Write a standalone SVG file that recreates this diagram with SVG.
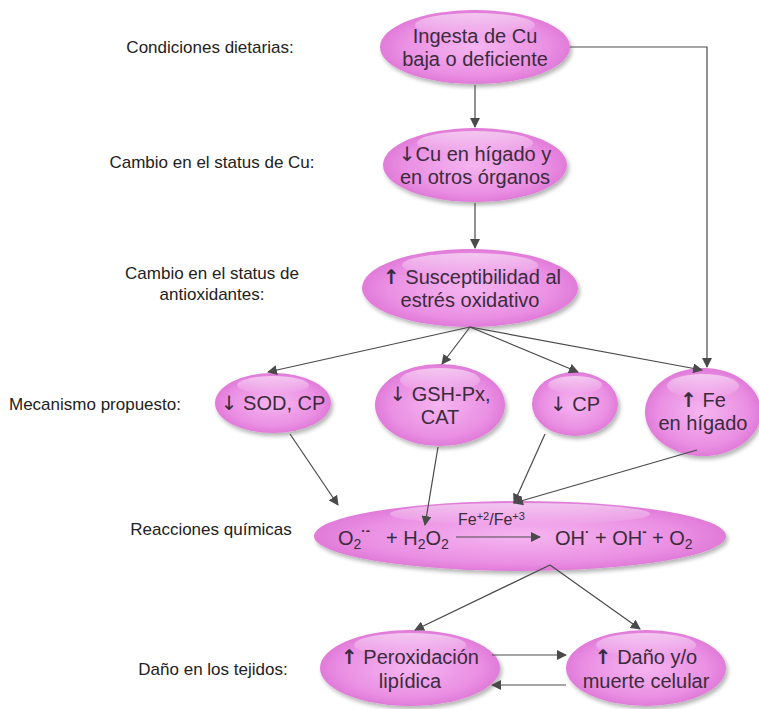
<svg xmlns="http://www.w3.org/2000/svg" width="759" height="709" viewBox="0 0 759 709">
<defs>
<radialGradient id="g" cx="50%" cy="50%" r="55%">
<stop offset="0" stop-color="#f5b5f0"/>
<stop offset="0.7" stop-color="#ea8fe3"/>
<stop offset="1" stop-color="#dc72d4"/>
</radialGradient>
<linearGradient id="hl" x1="0" y1="0" x2="0" y2="1">
<stop offset="0" stop-color="#fff" stop-opacity="0.55"/>
<stop offset="1" stop-color="#fff" stop-opacity="0"/>
</linearGradient>
<filter id="sh" x="-10%" y="-10%" width="125%" height="130%">
<feGaussianBlur in="SourceAlpha" stdDeviation="2"/>
<feOffset dx="2" dy="3"/>
<feComponentTransfer><feFuncA type="linear" slope="0.3"/></feComponentTransfer>
<feMerge><feMergeNode/><feMergeNode in="SourceGraphic"/></feMerge>
</filter>
<marker id="a" viewBox="0 0 10 10" refX="9" refY="5" markerWidth="10" markerHeight="10" markerUnits="userSpaceOnUse" orient="auto">
<path d="M0,0 L10,5 L0,10 z" fill="#4a4a4a"/>
</marker>
</defs>
<style>
.n{fill:url(#g);filter:url(#sh)}
.h{fill:url(#hl)}
.t{font-family:"Liberation Sans",Arial,sans-serif;font-size:20px;fill:#3b2b3b;text-anchor:middle}
.r{font-family:"Liberation Sans",Arial,sans-serif;font-size:20px;fill:#3b2b3b}
.l{font-family:"Liberation Sans",Arial,sans-serif;font-size:17px;fill:#222;text-anchor:middle}
.c{stroke:#4a4a4a;stroke-width:1.2;fill:none;marker-end:url(#a)}
.u{font-family:"DejaVu Sans",sans-serif;font-weight:bold}
.d{font-family:"DejaVu Sans",sans-serif}
.s{font-size:14px}
.p{font-size:13px;font-weight:bold}
</style>
<rect width="759" height="709" fill="#fff"/>

<g id="labels">
<text class="l" x="210" y="53">Condiciones dietarias:</text>
<text class="l" x="212" y="168">Cambio en el status de Cu:</text>
<text class="l" x="212" y="279">Cambio en el status de</text>
<text class="l" x="212" y="300">antioxidantes:</text>
<text class="l" x="95" y="410">Mecanismo propuesto:</text>
<text class="l" x="211" y="535">Reacciones químicas</text>
<text class="l" x="213" y="675">Daño en los tejidos:</text>
</g>

<g id="n1">
<ellipse class="n" cx="475" cy="47" rx="95" ry="37"/>
<ellipse class="h" cx="475" cy="25" rx="60" ry="12"/>
<text class="t" x="475" y="43">Ingesta de Cu</text>
<text class="t" x="475" y="66">baja o deficiente</text>
</g>
<g id="n2">
<ellipse class="n" cx="475" cy="165" rx="92" ry="37"/>
<ellipse class="h" cx="475" cy="143" rx="58" ry="12"/>
<text class="t" x="475" y="161"><tspan class="d">↓</tspan>Cu en hígado y</text>
<text class="t" x="475" y="184">en otros órganos</text>
</g>
<g id="n3">
<ellipse class="n" cx="470" cy="288" rx="108" ry="39"/>
<ellipse class="h" cx="470" cy="265" rx="68" ry="12"/>
<text class="t" x="472" y="284"><tspan class="u">↑</tspan> Susceptibilidad al</text>
<text class="t" x="470" y="307">estrés oxidativo</text>
</g>
<g id="n4">
<ellipse class="n" cx="273" cy="403" rx="58" ry="30"/>
<ellipse class="h" cx="273" cy="385" rx="36" ry="9"/>
<text class="t" x="273" y="410"><tspan class="d">↓</tspan> SOD, CP</text>
</g>
<g id="n5">
<ellipse class="n" cx="440" cy="405" rx="65" ry="41"/>
<ellipse class="h" cx="440" cy="380" rx="40" ry="12"/>
<text class="t" x="440" y="401"><tspan class="d">↓</tspan> GSH-Px,</text>
<text class="t" x="440" y="424">CAT</text>
</g>
<g id="n6">
<ellipse class="n" cx="575" cy="404" rx="43" ry="32"/>
<ellipse class="h" cx="575" cy="385" rx="27" ry="9"/>
<text class="t" x="575" y="411"><tspan class="d">↓</tspan> CP</text>
</g>
<g id="n7">
<ellipse class="n" cx="703" cy="412" rx="58" ry="44"/>
<ellipse class="h" cx="703" cy="386" rx="36" ry="12"/>
<text class="t" x="703" y="407"><tspan class="u">↑</tspan> Fe</text>
<text class="t" x="703" y="430">en hígado</text>
</g>
<g id="n8">
<ellipse class="n" cx="520" cy="536" rx="206" ry="35"/>
<ellipse class="h" cx="520" cy="514" rx="130" ry="11"/>
<text class="r" x="338" y="545">O<tspan class="s" dy="4">2</tspan><tspan class="p" dy="-14">·-</tspan></text>
<text class="r" x="386" y="545">+ H<tspan class="s" dy="4">2</tspan><tspan dy="-4">O</tspan><tspan class="s" dy="4">2</tspan></text>
<text x="458" y="525" font-family="Liberation Sans,Arial,sans-serif" font-size="16" fill="#3b2b3b">Fe<tspan font-size="11" dy="-5">+2</tspan><tspan dy="5">/Fe</tspan><tspan font-size="11" dy="-5">+3</tspan></text>
<text class="r" x="555" y="545">OH<tspan class="p" dy="-9">·</tspan><tspan dy="9"> + OH</tspan><tspan class="p" dy="-9">-</tspan><tspan dy="9">  + O</tspan><tspan class="s" dy="4">2</tspan></text>
</g>
<g id="n9">
<ellipse class="n" cx="410" cy="668" rx="90" ry="38"/>
<ellipse class="h" cx="410" cy="645" rx="56" ry="12"/>
<text class="t" x="410" y="664"><tspan class="u">↑</tspan> Peroxidación</text>
<text class="t" x="410" y="688">lipídica</text>
</g>
<g id="n10">
<ellipse class="n" cx="646" cy="668" rx="80" ry="38"/>
<ellipse class="h" cx="646" cy="645" rx="50" ry="12"/>
<text class="t" x="646" y="664"><tspan class="u">↑</tspan> Daño y/o</text>
<text class="t" x="646" y="688">muerte celular</text>
</g>

<g id="connectors">
<line class="c" x1="475" y1="85" x2="475" y2="127"/>
<polyline class="c" points="570,47 707,47 707,367"/>
<line class="c" x1="475" y1="203" x2="475" y2="248"/>
<line class="c" x1="470" y1="327" x2="268" y2="372"/>
<line class="c" x1="470" y1="327" x2="442" y2="364"/>
<line class="c" x1="470" y1="327" x2="578" y2="372"/>
<line class="c" x1="470" y1="327" x2="702" y2="370"/>
<line class="c" x1="290" y1="434" x2="338" y2="505"/>
<line class="c" x1="438" y1="447" x2="425" y2="525"/>
<line class="c" x1="545" y1="434" x2="514" y2="503"/>
<line class="c" x1="697" y1="450" x2="514" y2="503"/>
<line class="c" x1="550" y1="565" x2="415" y2="630"/>
<line class="c" x1="550" y1="565" x2="640" y2="629"/>
<line class="c" x1="492" y1="655" x2="566" y2="655"/>
<line class="c" x1="566" y1="685" x2="492" y2="685"/>
<line class="c" x1="456" y1="537" x2="540" y2="537"/>
</g>
</svg>
